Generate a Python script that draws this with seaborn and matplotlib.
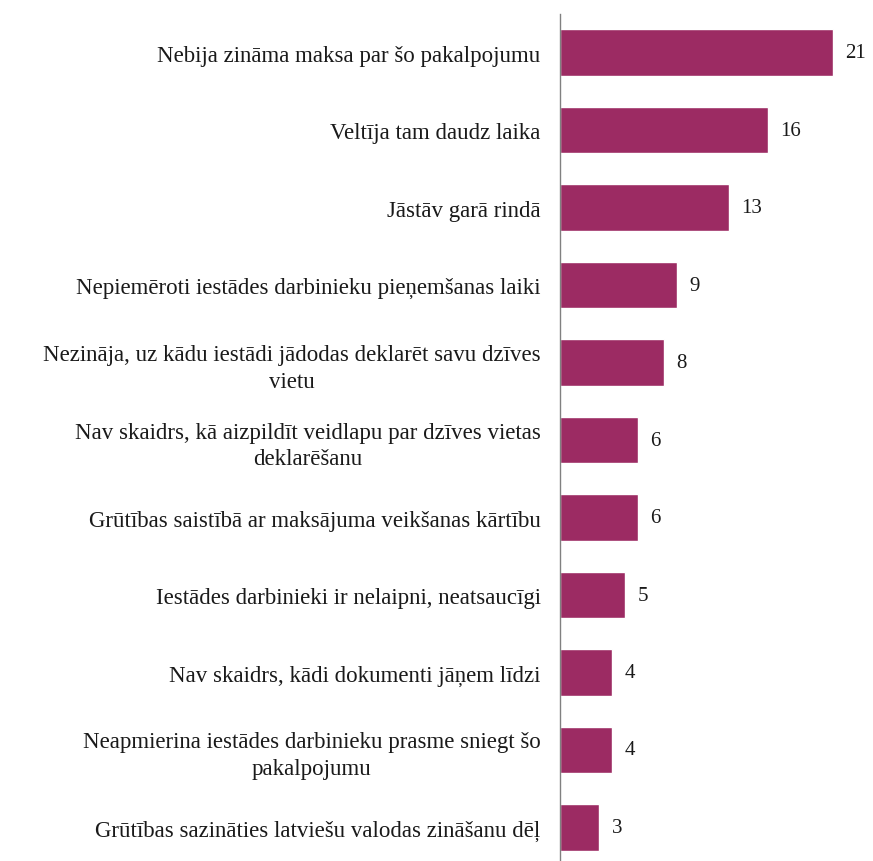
import matplotlib
matplotlib.use("Agg")
import matplotlib.pyplot as plt
import seaborn as sns
import pandas as pd
import numpy as np

categories = [
    "Nebija zināma maksa par šo pakalpojumu",
    "Veltīja tam daudz laika",
    "Jāstāv garā rindā",
    "Nepiemēroti iestādes darbinieku pieņemšanas laiki",
    "Nezināja, uz kādu iestādi jādodas deklarēt savu dzīves\nvietu",
    "Nav skaidrs, kā aizpildīt veidlapu par dzīves vietas\ndeklarēšanu",
    "Grūtības saistībā ar maksājuma veikšanas kārtību",
    "Iestādes darbinieki ir nelaipni, neatsaucīgi",
    "Nav skaidrs, kādi dokumenti jāņem līdzi",
    "Neapmierina iestādes darbinieku prasme sniegt šo\npakalpojumu",
    "Grūtības sazināties latviešu valodas zināšanu dēļ",
]
values = [21, 16, 13, 9, 8, 6, 6, 5, 4, 4, 3]

df = pd.DataFrame({"cat": categories, "val": values})

sns.set_theme(style="white")
plt.rcParams["font.family"] = ["Liberation Serif", "DejaVu Serif"]

fig = plt.figure(figsize=(8.73, 8.62), dpi=100)
ax = fig.add_axes([0.6415, -0.006, 0.3723, 0.9886])

bar_color = "#9C2B63"
sns.barplot(data=df, x="val", y="cat", orient="h", color=bar_color,
            width=0.6, saturation=1, ax=ax)

ax.set_xlim(0, 25)
ax.set_ylim(len(categories) - 0.5, -0.5)
ax.set_xlabel("")
ax.set_ylabel("")
ax.set_xticks([])

for s in ["top", "right", "bottom"]:
    ax.spines[s].set_visible(False)
ax.spines["left"].set_color("#808080")
ax.spines["left"].set_linewidth(1.0)

# category labels without major tick marks, separators as minor ticks
ax.set_yticks(range(len(categories)))
ax.set_yticklabels(categories, fontsize=16.5, color="#1a1a1a",
                   multialignment="center", linespacing=1.35)
ax.tick_params(axis="y", which="major", length=0, pad=14)
ax.set_yticks(np.arange(-0.5, len(categories), 1.0), minor=True)
ax.tick_params(axis="y", which="minor", length=5, width=1.0,
               color="#808080", direction="out")

for i, v in enumerate(values):
    ax.annotate(str(v), xy=(v, i), xytext=(9, 0), textcoords="offset points",
                va="center", ha="left", fontsize=15, color="#1a1a1a")

fig.savefig("out.png", dpi=100, facecolor="white")
